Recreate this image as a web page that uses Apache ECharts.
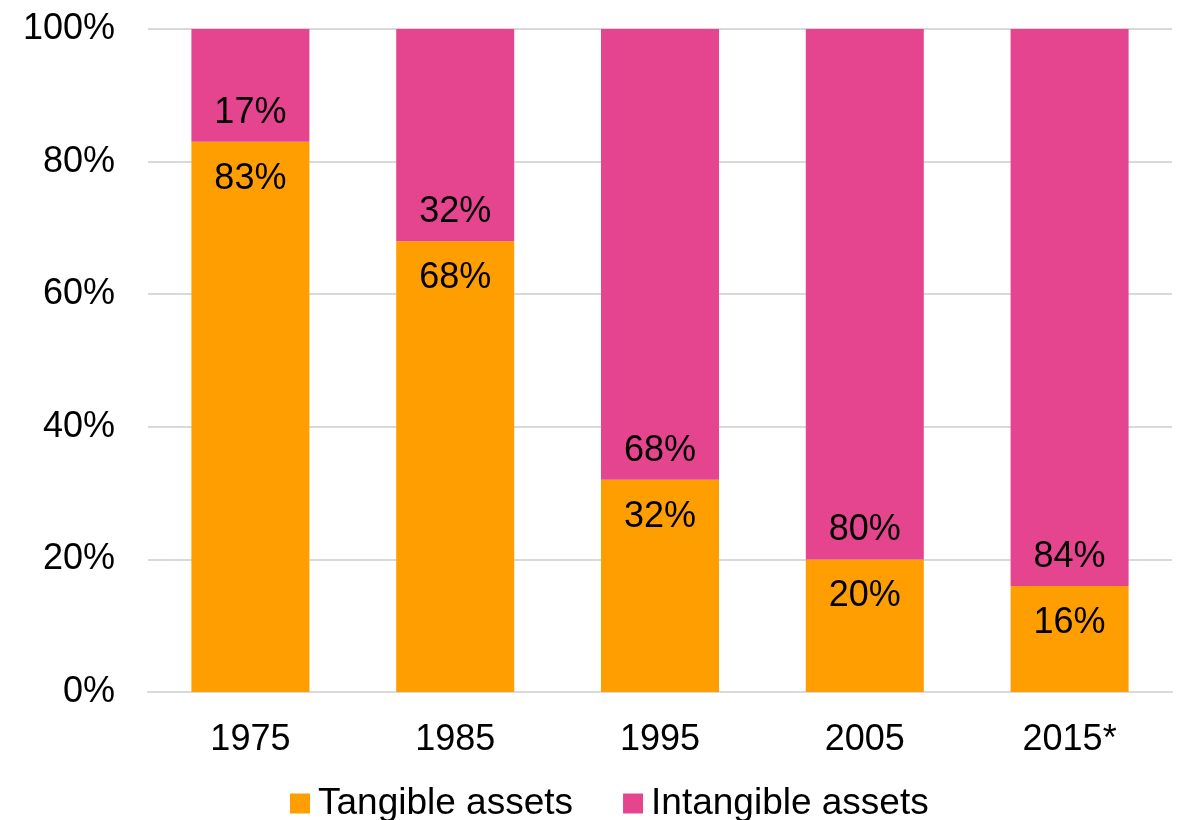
<!DOCTYPE html>
<html>
<head>
<meta charset="utf-8">
<script src="https://cdn.jsdelivr.net/npm/echarts@6/dist/echarts.min.js"></script>
<style>
html,body{margin:0;padding:0;background:#fff;}
#main{width:1182px;height:820px;}
</style>
</head>
<body>
<div id="main"></div>
<script>
var years = ['1975', '1985', '1995', '2005', '2015*'];
var tangible = [83, 68, 32, 20, 16];
var intangible = [17, 32, 68, 80, 84];

var myChart = echarts.init(document.getElementById('main'));
var font = 'Liberation Sans, Arial, sans-serif';

option = {
    animation: false,
    color: ['#FF9E00', '#E5458E'],
    textStyle: { fontFamily: font },
    grid: {
        left: 148,
        right: 10,
        top: 29,
        bottom: 128
    },
    legend: {
        data: ['Tangible assets', 'Intangible assets'],
        bottom: -7,
        left: 285,
        itemWidth: 20,
        itemHeight: 20,
        itemGap: 50,
        icon: 'rect',
        textStyle: { fontSize: 37, color: '#000', fontFamily: font, padding: [0, 0, 0, 3] }
    },
    xAxis: {
        type: 'category',
        data: years,
        axisTick: { show: false },
        axisLine: { lineStyle: { color: '#d9d9d9', width: 2 } },
        axisLabel: { fontSize: 36, color: '#000', margin: 30, fontFamily: font }
    },
    yAxis: {
        type: 'value',
        min: 0,
        max: 100,
        interval: 20,
        axisLabel: { formatter: '{value}%', fontSize: 36, color: '#000', margin: 33, fontFamily: font, padding: [4, 0, 0, 0] },
        splitLine: { lineStyle: { color: '#d9d9d9', width: 2 } },
        axisLine: { show: false }
    },
    series: [
        {
            name: 'Tangible assets',
            type: 'bar',
            stack: 'total',
            barWidth: 118,
            data: tangible,
            label: {
                show: true,
                position: 'insideTop',
                distance: 19,
                formatter: '{c}%',
                fontSize: 36,
                color: '#000',
                fontFamily: font
            }
        },
        {
            name: 'Intangible assets',
            type: 'bar',
            stack: 'total',
            barWidth: 118,
            data: intangible,
            label: {
                show: true,
                position: 'insideBottom',
                distance: 11,
                formatter: '{c}%',
                fontSize: 36,
                color: '#000',
                fontFamily: font
            }
        }
    ]
};

myChart.setOption(option);
</script>
</body>
</html>
